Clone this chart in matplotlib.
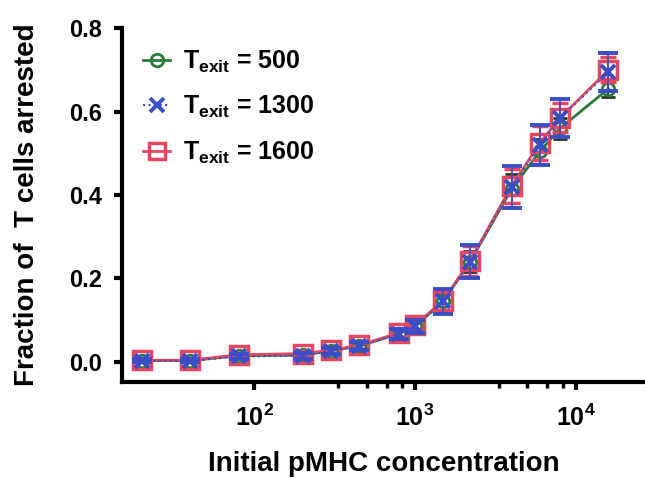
import matplotlib.pyplot as plt
import numpy as np
from matplotlib.lines import Line2D
from matplotlib.ticker import FixedLocator, LogFormatterSciNotation, NullFormatter

plt.rcParams['font.family'] = ['Liberation Sans', 'DejaVu Sans']
plt.rcParams['font.weight'] = 'bold'
plt.rcParams['mathtext.fontset'] = 'custom'
plt.rcParams['mathtext.rm'] = 'Liberation Sans:bold'
plt.rcParams['mathtext.bf'] = 'Liberation Sans:bold'
plt.rcParams['mathtext.it'] = 'Liberation Sans:bold'

# initial pMHC concentration
conc = [20, 40, 80, 200, 300, 450, 800, 1000, 1500, 2200, 4000, 6000, 8000, 16000]

# fraction of T cells arrested for each T_exit
frac_500 = [0.003, 0.003, 0.015, 0.016, 0.027, 0.038, 0.068, 0.085, 0.145, 0.240, 0.415, 0.505, 0.560, 0.655]
frac_1300 = [0.003, 0.003, 0.013, 0.015, 0.026, 0.038, 0.068, 0.085, 0.145, 0.240, 0.420, 0.520, 0.585, 0.695]
frac_1600 = [0.004, 0.004, 0.017, 0.020, 0.028, 0.040, 0.070, 0.088, 0.147, 0.242, 0.422, 0.525, 0.585, 0.700]

err_500 = [0.003, 0.003, 0.004, 0.005, 0.006, 0.006, 0.008, 0.010, 0.020, 0.025, 0.035, 0.030, 0.025, 0.020]
err_1300 = [0.004, 0.004, 0.006, 0.007, 0.008, 0.009, 0.012, 0.015, 0.030, 0.040, 0.050, 0.048, 0.045, 0.045]
err_1600 = [0.004, 0.004, 0.005, 0.006, 0.007, 0.008, 0.010, 0.012, 0.025, 0.035, 0.040, 0.040, 0.035, 0.030]

labels = ['T$_{\\mathrm{exit}}$ = 500', 'T$_{\\mathrm{exit}}$ = 1300', 'T$_{\\mathrm{exit}}$ = 1600']

green = '#2b7a3c'
blue = '#3a4ec8'
red = '#e8455e'

fig = plt.figure(figsize=(6.45, 4.78), dpi=100)
ax = fig.add_axes([0.189, 0.201, 0.811, 0.740])

ax.errorbar(conc, frac_500, yerr=err_500, color=green, marker='o', ms=9,
            mfc='none', mew=2, lw=2, capsize=5, elinewidth=1.5, capthick=1.5,
            ecolor='#203a20', zorder=3, clip_on=False)
ax.errorbar(conc, frac_1600, yerr=err_1600, color=red, marker='s', ms=13,
            mfc='none', mew=2.5, lw=2, capsize=6, elinewidth=1.5, capthick=1.5,
            zorder=4, clip_on=False)
ax.errorbar(conc, frac_1300, yerr=err_1300, color=blue, marker='x', ms=10,
            mew=2.8, lw=1.5, ls=':', capsize=7, elinewidth=1.2, capthick=1.2,
            zorder=5, clip_on=False)

ax.set_xscale('log')
ax.set_xlim(15, 27000)
ax.set_ylim(-0.048, 0.8)
ax.set_yticks([0.0, 0.2, 0.4, 0.6, 0.8])
ax.set_yticklabels(['0.0', '0.2', '0.4', '0.6', '0.8'])

ax.xaxis.set_major_locator(FixedLocator([100, 1000, 10000]))
ax.xaxis.set_major_formatter(LogFormatterSciNotation())
minor = [m * d for d in (100, 1000) for m in (3.33, 5, 6.67, 8.33)]
ax.xaxis.set_minor_locator(FixedLocator(minor))
ax.xaxis.set_minor_formatter(NullFormatter())

for s in ['top', 'right']:
    ax.spines[s].set_visible(False)
for s in ['left', 'bottom']:
    ax.spines[s].set_linewidth(3)

ax.tick_params(axis='both', which='major', direction='out', length=6, width=3)
ax.tick_params(axis='x', which='major', pad=10, labelsize=18)
ax.tick_params(axis='y', which='major', pad=8, labelsize=17)
ax.tick_params(axis='x', which='minor', direction='out', length=4, width=2.5)

ax.set_ylabel('Fraction of  T cells arrested', fontsize=20, fontweight='bold', labelpad=21)
ax.set_xlabel('Initial pMHC concentration', fontsize=20, fontweight='bold', labelpad=15)

# legend shows marker and line only
handles = [
    Line2D([], [], color=green, marker='o', ms=9, mfc='none', mew=2, lw=2),
    Line2D([], [], color=blue, marker='x', ms=10, mew=2.8, lw=1.5, ls=':'),
    Line2D([], [], color=red, marker='s', ms=11, mfc='none', mew=2.5, lw=2),
]
ax.legend(handles, labels, loc='upper left', bbox_to_anchor=(-0.003, 1.005),
          frameon=False, fontsize=18, handlelength=1.1, handletextpad=0.5,
          labelspacing=0.76)

fig.savefig('out.png', dpi=100)
